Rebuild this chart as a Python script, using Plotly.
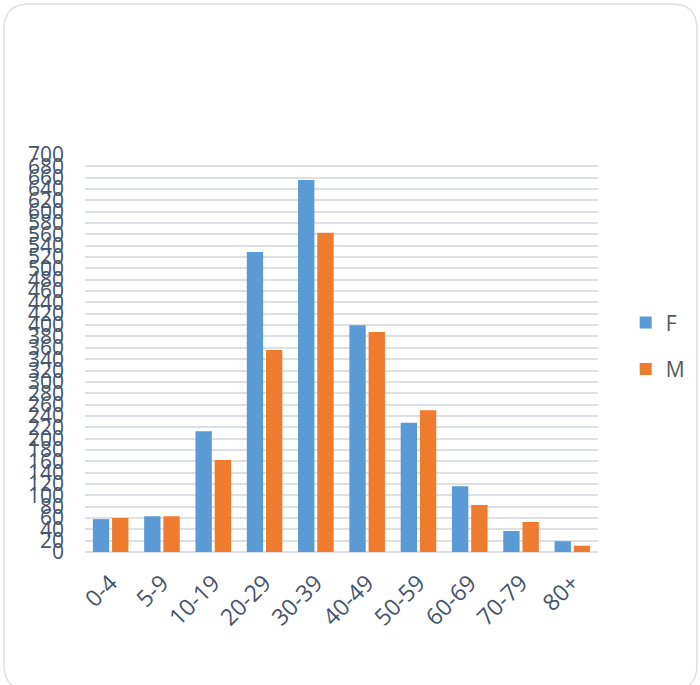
import plotly.graph_objects as go

categories = ["0-4", "5-9", "10-19", "20-29", "30-39", "40-49", "50-59", "60-69", "70-79", "80+"]
female = [58, 63, 213, 529, 656, 400, 228, 116, 37, 19]
male = [60, 63, 162, 356, 563, 388, 250, 83, 53, 11]
y_ticks = list(range(0, 701, 20))

W, H = 700, 685
L, R, T, B = 85, 598, 155, 552

fig = go.Figure()
fig.add_trace(go.Bar(name="F", x=categories, y=female, marker=dict(color="#5B9BD5", line=dict(width=0)),
                     legendgroup="F"))
fig.add_trace(go.Bar(name="M", x=categories, y=male, marker=dict(color="#EF7B2E", line=dict(width=0)),
                     legendgroup="M"))

def P(px, py):
    a, b = (px - L) / (R - L), (B - py) / (B - T)
    return f"{a:.5f},{b:.5f}"

# rounded card border
x0, y0, x1, y1, r = 4, 4, 697, 690, 25
path = (f"M {P(x0 + r, y0)} L {P(x1 - r, y0)} Q {P(x1, y0)} {P(x1, y0 + r)} "
        f"L {P(x1, y1 - r)} Q {P(x1, y1)} {P(x1 - r, y1)} "
        f"L {P(x0 + r, y1)} Q {P(x0, y1)} {P(x0, y1 - r)} "
        f"L {P(x0, y0 + r)} Q {P(x0, y0)} {P(x0 + r, y0)} Z")
fig.add_shape(type="path", path=path, xref="paper", yref="paper",
              line=dict(color="#DCE0E6", width=1.5), layer="below")

fig.update_layout(
    width=W, height=H,
    margin=dict(l=L, r=W - R, t=T, b=H - B, pad=0, autoexpand=False),
    paper_bgcolor="white", plot_bgcolor="white",
    barmode="group", bargap=0.25, bargroupgap=0.15,
    font=dict(family="Open Sans, Noto Sans, sans-serif", color="#44546A"),
    legend=dict(x=1.054, y=0.519, xanchor="left", yanchor="middle",
                font=dict(size=21, color="#595959"), tracegroupgap=16,
                bgcolor="rgba(0,0,0,0)"),
    showlegend=True,
)
fig.update_yaxes(range=[0, 700], tickvals=y_ticks, ticktext=[str(v) for v in y_ticks],
                 showgrid=True, gridcolor="#DDE1E6", gridwidth=1.5,
                 zeroline=True, zerolinecolor="#DDE1E6", zerolinewidth=1.5,
                 showline=False, ticks="", tickfont=dict(size=21, color="#44546A"),
                 ticklabelstandoff=20)
fig.update_xaxes(showgrid=False, showline=False, ticks="", tickangle=-45,
                 tickfont=dict(size=23, color="#44546A"), ticklabelstandoff=12)

fig.write_html("out.html", config={"displayModeBar": False},
               post_script="document.body.style.margin='0px';document.body.style.padding='0px';")
